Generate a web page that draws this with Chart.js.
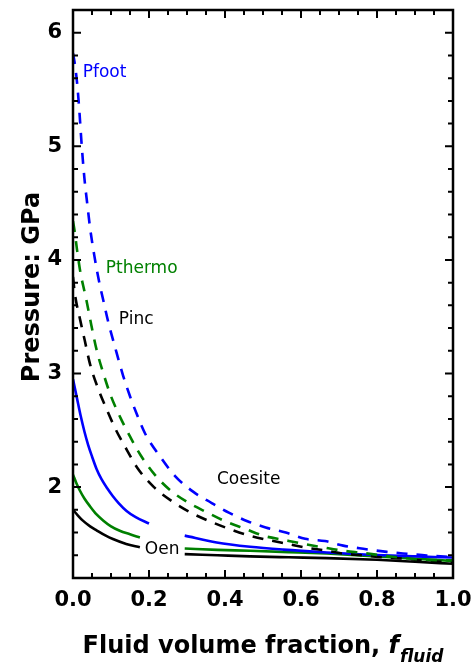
<!DOCTYPE html>
<html>
<head>
<meta charset="utf-8">
<script src="https://cdn.jsdelivr.net/npm/chart.js@4/dist/chart.umd.min.js"></script>
<style>
  html, body { margin: 0; padding: 0; background: #ffffff; }
  #wrap { width: 472px; height: 664px; position: relative; }
</style>
</head>
<body>
<div id="wrap"><canvas id="chart" width="472" height="664"></canvas></div>
<script>
// Tick values on each axis
const xTickValues = [0, 0.2, 0.4, 0.6, 0.8, 1.0];
const yTickValues = [2, 3, 4, 5, 6];

// Coesite pressures (dashed curves) vs fluid volume fraction
const pfootCoesX = [0, 0.005, 0.011, 0.017, 0.022, 0.03, 0.038, 0.045, 0.056, 0.068, 0.08, 0.093, 0.11, 0.132, 0.15, 0.167, 0.19, 0.229, 0.268, 0.316, 0.365, 0.41, 0.459, 0.507, 0.56, 0.611, 0.663, 0.711, 0.764, 0.826, 0.879, 0.931, 1.0];
const pfootCoes  = [5.82, 5.72, 5.55, 5.3, 5.05, 4.72, 4.48, 4.28, 4.04, 3.82, 3.64, 3.45, 3.24, 2.98, 2.80, 2.65, 2.47, 2.27, 2.10, 1.96, 1.86, 1.775, 1.70, 1.645, 1.60, 1.545, 1.525, 1.485, 1.457, 1.43, 1.413, 1.398, 1.385];

const pthermoCoesX = [0, 0.004, 0.011, 0.02, 0.027, 0.035, 0.048, 0.062, 0.08, 0.1, 0.125, 0.151, 0.178, 0.215, 0.257, 0.305, 0.354, 0.40, 0.455, 0.503, 0.555, 0.608, 0.658, 0.711, 0.764, 0.82, 0.874, 0.93, 1.0];
const pthermoCoes  = [4.34, 4.26, 4.08, 3.88, 3.77, 3.65, 3.43, 3.21, 3.0, 2.80, 2.61, 2.44, 2.28, 2.11, 1.97, 1.86, 1.775, 1.70, 1.63, 1.57, 1.535, 1.50, 1.47, 1.44, 1.42, 1.395, 1.375, 1.36, 1.355];

const pincCoesX = [0, 0.005, 0.019, 0.031, 0.045, 0.067, 0.088, 0.112, 0.143, 0.169, 0.213, 0.263, 0.313, 0.363, 0.413, 0.463, 0.513, 0.565, 0.618, 0.663, 0.71, 0.762, 0.82, 0.874, 0.927, 1.0];
const pincCoes  = [3.85, 3.7, 3.47, 3.29, 3.08, 2.86, 2.69, 2.51, 2.32, 2.17, 2.0, 1.87, 1.77, 1.695, 1.63, 1.575, 1.535, 1.50, 1.465, 1.443, 1.415, 1.40, 1.38, 1.37, 1.35, 1.34];

// Orthoenstatite pressures (solid curves); null leaves the break around the "Oen" label
const pfootOenX = [0, 0.01, 0.02, 0.03, 0.04, 0.05, 0.062, 0.075, 0.09, 0.105, 0.12, 0.141, 0.165, 0.2, 0.25, 0.294, 0.378, 0.466, 0.553, 0.668, 0.78, 0.9, 1.0];
const pfootOen  = [2.95, 2.79, 2.63, 2.49, 2.37, 2.27, 2.16, 2.07, 1.99, 1.92, 1.86, 1.79, 1.735, 1.68, null, 1.573, 1.513, 1.475, 1.45, 1.425, 1.405, 1.39, 1.38];

const pthermoOenX = [0, 0.009, 0.018, 0.03, 0.045, 0.062, 0.08, 0.1, 0.123, 0.15, 0.176, 0.23, 0.294, 0.38, 0.466, 0.568, 0.668, 0.8, 0.9, 1.0];
const pthermoOen  = [2.11, 2.035, 1.97, 1.90, 1.83, 1.76, 1.705, 1.655, 1.616, 1.585, 1.557, null, 1.46, 1.448, 1.44, 1.428, 1.415, 1.39, 1.37, 1.35];

const pincOenX = [0, 0.013, 0.026, 0.045, 0.062, 0.085, 0.105, 0.14, 0.176, 0.23, 0.294, 0.38, 0.466, 0.568, 0.668, 0.8, 0.9, 1.0];
const pincOen  = [1.80, 1.75, 1.705, 1.655, 1.62, 1.575, 1.543, 1.50, 1.47, null, 1.41, 1.40, 1.39, 1.382, 1.375, 1.36, 1.343, 1.325];

// Curve labels, anchored in data coordinates
const curveLabels = [
  { text: 'Pfoot',   x: 0.0255, y: 5.614, color: '#0000ff' },
  { text: 'Pthermo', x: 0.0862, y: 3.884, color: '#008000' },
  { text: 'Pinc',    x: 0.1207, y: 3.434, color: '#000000' },
  { text: 'Coesite', x: 0.3787, y: 2.031, color: '#000000' },
  { text: 'Oen',     x: 0.189,  y: 1.413, color: '#000000' }
];

const BLUE = '#0000ff', GREEN = '#008000', BLACK = '#000000';
const DASH = [11, 9];

function pts(xs, ys) { return xs.map((x, i) => ({ x: x, y: ys[i] })); }

function series(xs, ys, color, dashed) {
  return {
    data: pts(xs, ys),
    borderColor: color,
    backgroundColor: color,
    borderWidth: 2.6,
    borderDash: dashed ? DASH : [],
    showLine: true,
    pointRadius: 0,
    pointHoverRadius: 0,
    cubicInterpolationMode: 'monotone',
    spanGaps: false,
    fill: false
  };
}

// Frame, inward major/minor ticks, axis titles and curve labels
const decorations = {
  id: 'decorations',
  afterDraw(chart) {
    const { ctx, chartArea: a, scales: { x, y } } = chart;
    ctx.save();
    ctx.strokeStyle = '#000';
    ctx.lineWidth = 2.5;
    ctx.strokeRect(a.left, a.top, a.right - a.left, a.bottom - a.top);

    ctx.lineWidth = 2;
    ctx.beginPath();
    for (let i = 0; i <= 20; i++) {
      const v = i * 0.05;
      const px = x.getPixelForValue(v);
      const len = (i % 4 === 0) ? 8 : 5;
      ctx.moveTo(px, a.bottom); ctx.lineTo(px, a.bottom - len);
      ctx.moveTo(px, a.top);    ctx.lineTo(px, a.top + len);
    }
    for (let i = 6; i <= 31; i++) {
      const v = i * 0.2;
      const py = y.getPixelForValue(v);
      const len = (i % 5 === 0) ? 8 : 5;
      ctx.moveTo(a.left, py);  ctx.lineTo(a.left + len, py);
      ctx.moveTo(a.right, py); ctx.lineTo(a.right - len, py);
    }
    ctx.stroke();

    // y-axis title
    ctx.fillStyle = '#000';
    ctx.font = 'bold 24px "DejaVu Sans"';
    ctx.textAlign = 'center';
    ctx.textBaseline = 'alphabetic';
    ctx.save();
    ctx.translate(39, 287);
    ctx.rotate(-Math.PI / 2);
    ctx.fillText('Pressure: GPa', 0, 0);
    ctx.restore();

    // x-axis title with italic subscripted symbol
    const main = 'Fluid volume fraction, ';
    const sym = 'f';
    const sub = 'fluid';
    ctx.textAlign = 'left';
    ctx.font = 'bold 24px "DejaVu Sans"';
    const wMain = ctx.measureText(main).width;
    ctx.font = 'italic bold 24px "DejaVu Sans"';
    const wSym = ctx.measureText(sym).width;
    ctx.font = 'italic bold 17px "DejaVu Sans"';
    const wSub = ctx.measureText(sub).width;
    const total = wMain + wSym + 1 + wSub;
    let tx = (a.left + a.right) / 2 - total / 2;
    const base = 653;
    ctx.font = 'bold 24px "DejaVu Sans"';
    ctx.fillText(main, tx, base);
    tx += wMain;
    ctx.font = 'italic bold 24px "DejaVu Sans"';
    ctx.fillText(sym, tx, base);
    tx += wSym + 1;
    ctx.font = 'italic bold 17px "DejaVu Sans"';
    ctx.fillText(sub, tx, base + 9);

    // curve labels
    ctx.font = '17px "DejaVu Sans"';
    curveLabels.forEach(l => {
      ctx.fillStyle = l.color;
      ctx.fillText(l.text, x.getPixelForValue(l.x), y.getPixelForValue(l.y));
    });
    ctx.restore();
  }
};

new Chart(document.getElementById('chart'), {
  type: 'scatter',
  data: {
    datasets: [
      series(pfootCoesX, pfootCoes, BLUE, true),
      series(pthermoCoesX, pthermoCoes, GREEN, true),
      series(pincCoesX, pincCoes, BLACK, true),
      series(pfootOenX, pfootOen, BLUE, false),
      series(pthermoOenX, pthermoOen, GREEN, false),
      series(pincOenX, pincOen, BLACK, false)
    ]
  },
  options: {
    responsive: false,
    animation: false,
    events: [],
    layout: { padding: { top: 10, right: 19, left: 0, bottom: 0 } },
    plugins: { legend: { display: false }, tooltip: { enabled: false } },
    scales: {
      x: {
        type: 'linear',
        min: 0,
        max: 1,
        afterFit(scale) {
          scale.height = 86;
          scale.paddingLeft = 0;
          scale.paddingRight = 0;
        },
        afterBuildTicks(scale) { scale.ticks = xTickValues.map(v => ({ value: v })); },
        grid: { display: false, drawTicks: false, tickLength: 0 },
        border: { display: false },
        ticks: {
          padding: 10,
          color: '#000',
          maxRotation: 0,
          font: { family: 'DejaVu Sans', size: 21, weight: 'bold' },
          callback: v => Number(v).toFixed(1)
        }
      },
      y: {
        type: 'linear',
        min: 1.2,
        max: 6.2,
        afterFit(scale) {
          scale.width = 73;
          scale.paddingTop = 0;
          scale.paddingBottom = 0;
        },
        afterBuildTicks(scale) { scale.ticks = yTickValues.map(v => ({ value: v })); },
        grid: { display: false, drawTicks: false, tickLength: 0 },
        border: { display: false },
        ticks: {
          padding: 11,
          color: '#000',
          font: { family: 'DejaVu Sans', size: 21, weight: 'bold' },
          callback: v => String(v)
        }
      }
    }
  },
  plugins: [decorations]
});
</script>
</body>
</html>
